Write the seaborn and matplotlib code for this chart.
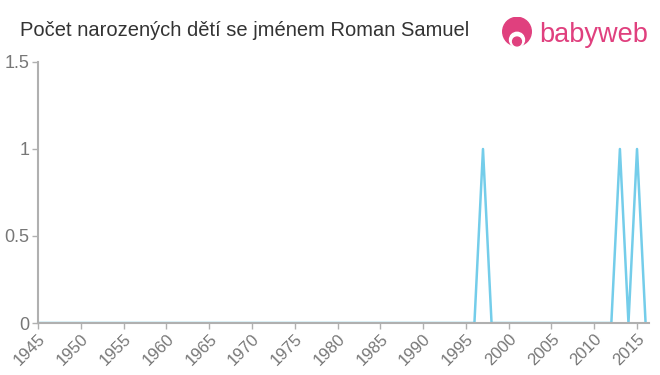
import matplotlib
matplotlib.use("Agg")
import matplotlib.pyplot as plt
import seaborn as sns
import pandas as pd
from matplotlib.patches import Circle

years = list(range(1945, 2017))
counts = [0] * len(years)
for y in (1997, 2013, 2015):
    counts[years.index(y)] = 1
tick_years = list(range(1945, 2016, 5))
y_ticks = [0, 0.5, 1, 1.5]
y_labels = ["0", "0.5", "1", "1.5"]
title = "Počet narozených dětí se jménem Roman Samuel"

sns.set_theme(style="white")
plt.rcParams['font.family'] = ['Liberation Sans', 'DejaVu Sans']

df = pd.DataFrame({"year": years, "count": counts})

fig = plt.figure(figsize=(6.6, 3.75), dpi=100)
ax = fig.add_axes([38/660, 1 - 323/375, (649-38)/660, (323-62)/375])
sns.lineplot(data=df, x="year", y="count", ax=ax, color="#74cdea", linewidth=1.8)

ax.set_xlim(1945, 2016.4)
ax.set_ylim(0, 1.5)
ax.set_xticks(tick_years)
ax.set_xticklabels([str(t) for t in tick_years], rotation=45, ha="right",
                   rotation_mode="anchor", fontsize=12, color="#777777")
ax.set_yticks(y_ticks)
ax.set_yticklabels(y_labels, fontsize=13, color="#777777")
ax.set_xlabel("")
ax.set_ylabel("")
for s in ("top", "right"):
    ax.spines[s].set_visible(False)
for s in ("left", "bottom"):
    ax.spines[s].set_color("#b0b0b0")
    ax.spines[s].set_linewidth(1.5)
ax.tick_params(axis="both", which="both", length=4, width=1, color="#b0b0b0",
               left=True, bottom=True, pad=2)

fig.text(20/660, 1 - 30/375, title, fontsize=14.5, color="#333333", va="center", ha="left")

# logo
pink = "#e0407e"
lax = fig.add_axes([500/660, 1 - 51/375, 34/660, 34/375])
lax.set_xlim(0, 1); lax.set_ylim(0, 1); lax.axis("off")
lax.add_patch(Circle((0.5, 0.57), 0.42, color=pink))
lax.add_patch(Circle((0.5, 0.33), 0.22, color="white"))
lax.add_patch(Circle((0.5, 0.28), 0.13, color=pink))
fig.text(539/660, 1 - 35/375, "babyweb", fontsize=19.5, color=pink, va="center", ha="left")

fig.savefig("out.png", dpi=100)
